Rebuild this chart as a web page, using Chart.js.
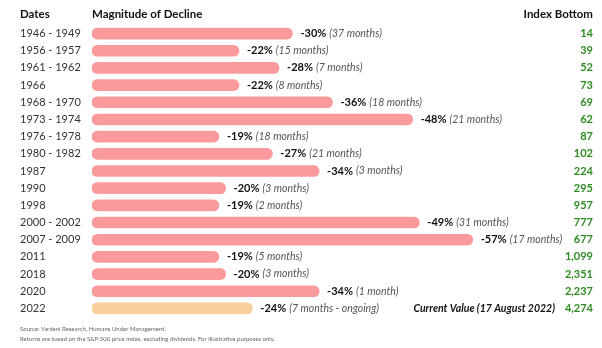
<!DOCTYPE html>
<html>
<head>
<meta charset="utf-8">
<script src="https://cdn.jsdelivr.net/npm/chart.js@4"></script>
<style>
  html, body { margin: 0; padding: 0; background: #fff; }
  #wrap { width: 602px; height: 348px; position: relative; }
</style>
</head>
<body>
<div id="wrap"><canvas id="chart"></canvas></div>
<script>
// data
const dates = ["1946 - 1949", "1956 - 1957", "1961 - 1962", "1966", "1968 - 1970", "1973 - 1974",
  "1976 - 1978", "1980 - 1982", "1987", "1990", "1998", "2000 - 2002", "2007 - 2009",
  "2011", "2018", "2020", "2022"];
const declines = [30, 22, 28, 22, 36, 48, 19, 27, 34, 20, 19, 49, 57, 19, 20, 34, 24];
const durations = ["37 months", "15 months", "7 months", "8 months", "18 months", "21 months",
  "18 months", "21 months", "3 months", "3 months", "2 months", "31 months", "17 months",
  "5 months", "3 months", "1 month", "7 months - ongoing"];
const indexBottoms = ["14", "39", "52", "73", "69", "62", "87", "102", "224", "295", "957",
  "777", "677", "1,099", "2,351", "2,237", "4,274"];
const barColors = dates.map(d => d === "2022" ? "#fbcf9c" : "#fa9a9d");

const FONT = "Lato, 'Open Sans', sans-serif";

// labels next to bars + right column + header / footnote
const annotate = {
  id: "annotate",
  afterDatasetsDraw(chart) {
    const { ctx, chartArea, scales } = chart;
    const x = scales.x, y = scales.y;
    ctx.save();
    ctx.textBaseline = "middle";

    dates.forEach((d, i) => {
      const py = y.getPixelForValue(i);
      let px = x.getPixelForValue(declines[i]) + 8;
      ctx.textAlign = "left";
      ctx.font = "bold 11px " + FONT;
      ctx.fillStyle = "#111";
      const pct = "-" + declines[i] + "%";
      ctx.fillText(pct, px, py);
      px += ctx.measureText(pct).width + 3;
      ctx.font = "italic 10.5px " + FONT;
      ctx.fillStyle = "#555";
      ctx.fillText("(" + durations[i] + ")", px, py);

      ctx.textAlign = "right";
      ctx.font = "bold 11px " + FONT;
      ctx.fillStyle = "#2e8b22";
      ctx.fillText(indexBottoms[i], chartArea.right, py);
    });

    // current value note on last row
    const last = y.getPixelForValue(dates.length - 1);
    ctx.textAlign = "right";
    ctx.font = "bold italic 10.5px " + FONT;
    ctx.fillStyle = "#111";
    ctx.fillText("Current Value (17 August 2022)", chartArea.right - 38, last);

    // headers
    ctx.font = "bold 11.5px " + FONT;
    ctx.fillStyle = "#111";
    ctx.textAlign = "left";
    ctx.fillText("Dates", 20, 14);
    ctx.fillText("Magnitude of Decline", chartArea.left, 14);
    ctx.textAlign = "right";
    ctx.fillText("Index Bottom", chartArea.right, 14);

    // footnote
    ctx.textAlign = "left";
    ctx.font = "6px " + FONT;
    ctx.fillStyle = "#666";
    ctx.fillText("Source: Yardeni Research, Humans Under Management.", 20, 329);
    ctx.fillText("Returns are based on the S&P 500 price index, excluding dividends. For illustrative purposes only.", 20, 339);
    ctx.restore();
  }
};

new Chart(document.getElementById("chart"), {
  type: "bar",
  data: {
    labels: dates,
    datasets: [{
      data: declines,
      backgroundColor: barColors,
      barThickness: 11,
      borderRadius: 6,
      borderSkipped: false
    }]
  },
  options: {
    indexAxis: "y",
    responsive: true,
    maintainAspectRatio: false,
    animation: false,
    layout: { padding: { left: 20, right: 9, top: 25, bottom: 31 } },
    plugins: { legend: { display: false }, tooltip: { enabled: false } },
    scales: {
      x: { display: false, min: 0, max: 75 },
      y: {
        grid: { display: false },
        border: { display: false },
        afterFit(scale) { scale.width = 72; },
        ticks: {
          crossAlign: "far",
          padding: 0,
          color: "#333",
          font: { family: FONT, size: 11 }
        }
      }
    }
  },
  plugins: [annotate]
});
</script>
</body>
</html>
